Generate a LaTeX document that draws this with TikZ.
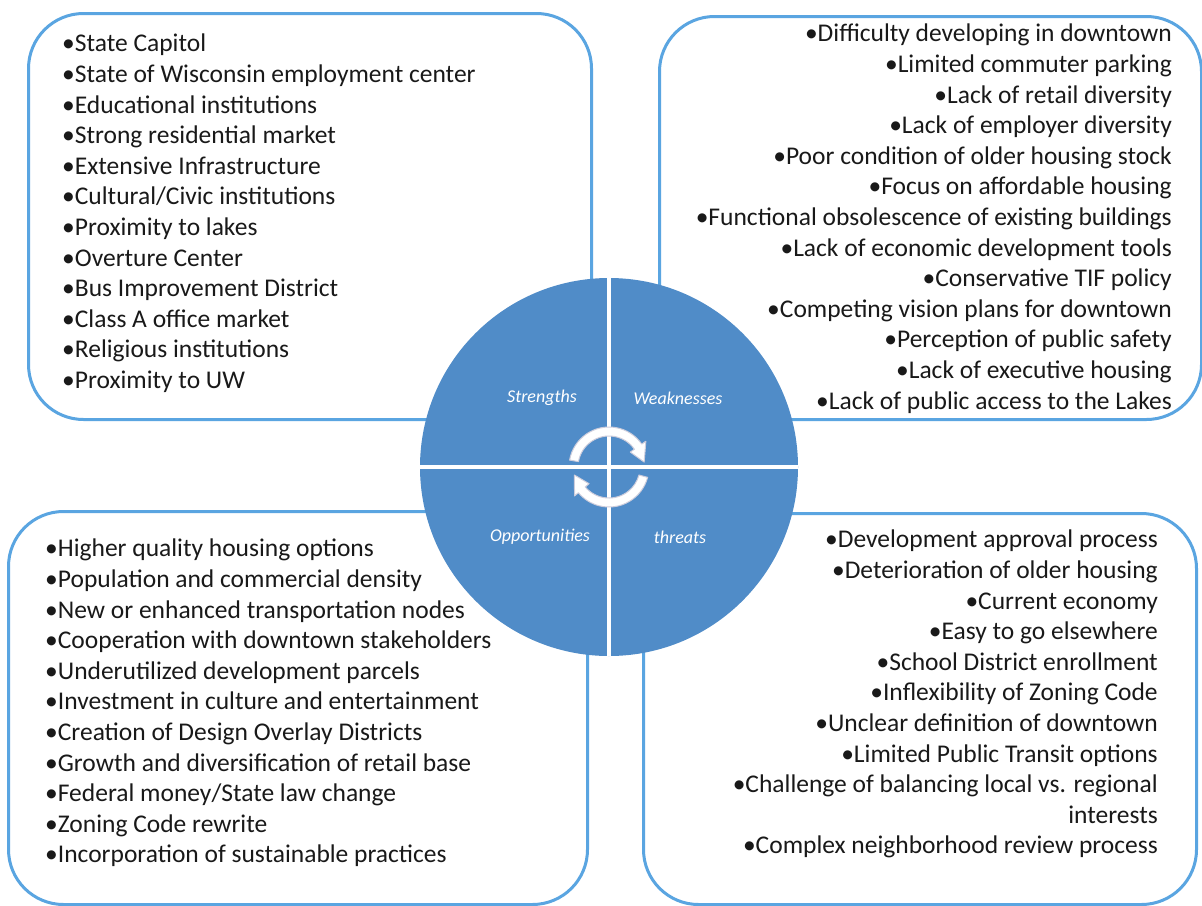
\documentclass[tikz,border=0pt]{standalone}
\usepackage{fontspec}
\setmainfont{Carlito}
\definecolor{circfill}{RGB}{80,140,200}
\definecolor{boxline}{RGB}{90,165,225}
\definecolor{txt}{RGB}{25,25,25}
\definecolor{arrline}{RGB}{205,205,220}
\tikzset{
  swotbox/.style={draw=boxline, line width=3pt, rounded corners=55pt, inner sep=0pt, anchor=north west},
  listtext/.style={inner sep=0pt, text=txt, font=\fontsize{25.5}{30.6}\selectfont},
  quadlabel/.style={inner sep=0pt, text=white, font=\fontsize{18}{20}\selectfont\itshape},
  cyclearrow/.style={fill=white, draw=arrline, line width=1pt, line join=round}
}
\begin{document}
\begin{tikzpicture}[x=1pt,y=-1pt]
\useasboundingbox (0,0) rectangle (1202,905);
\fill[white] (0,0) rectangle (1202,905);
% boxes
\node[swotbox, minimum width=563pt, minimum height=406pt] (sbox) at (27,12) {};
\node[swotbox, minimum width=542pt, minimum height=403pt] (wbox) at (658,15) {};
\node[swotbox, minimum width=579pt, minimum height=393pt] (obox) at (7,510) {};
\node[swotbox, minimum width=553pt, minimum height=391pt] (tbox) at (642,512) {};
% texts
\node[listtext, align=left, anchor=north west] (stxt) at (62,34) {•State Capitol\\•State of Wisconsin employment center\\•Educational institutions\\•Strong residential market\\•Extensive Infrastructure\\•Cultural/Civic institutions\\•Proximity to lakes\\•Overture Center\\•Bus Improvement District\\•Class A office market\\•Religious institutions\\•Proximity to UW};
\node[listtext, align=right, anchor=north east] (wtxt) at (1172,24) {•Difficulty developing in downtown\\•Limited commuter parking\\•Lack of retail diversity\\•Lack of employer diversity\\•Poor condition of older housing stock\\•Focus on affordable housing\\•Functional obsolescence of existing buildings\\•Lack of economic development tools\\•Conservative TIF policy\\•Competing vision plans for downtown\\•Perception of public safety\\•Lack of executive housing\\•Lack of public access to the Lakes};
\node[listtext, align=left, anchor=north west] (otxt) at (45,539) {•Higher quality housing options\\•Population and commercial density\\•New or enhanced transportation nodes\\•Cooperation with downtown stakeholders\\•Underutilized development parcels\\•Investment in culture and entertainment\\•Creation of Design Overlay Districts\\•Growth and diversification of retail base\\•Federal money/State law change\\•Zoning Code rewrite\\•Incorporation of sustainable practices};
\node[listtext, align=right, anchor=north east] (ttxt) at (1158,530) {•Development approval process\\•Deterioration of older housing\\•Current economy\\•Easy to go elsewhere\\•School District enrollment\\•Inflexibility of Zoning Code\\•Unclear definition of downtown\\•Limited Public Transit options\\•Challenge of balancing local vs. regional\\interests\\•Complex neighborhood review process};
% circle
\node[circle, fill=circfill, minimum size=378pt, inner sep=0pt] (c) at (609,467) {};
\draw[white, line width=4pt] (c.north) -- (c.south);
\draw[white, line width=4pt] (c.west) -- (c.east);
\node[quadlabel] (sl) at (542,398) {Strengths};
\node[quadlabel] (wl) at (678,398) {Weaknesses};
\node[quadlabel] (ol) at (540,537) {Opportunities};
\node[quadlabel] (tl) at (680,537) {threats};
% cycle arrows
\begin{scope}[shift={(c.center)}]
\draw[cyclearrow] (190:40) arc[start angle=190, end angle=325, radius=40] -- (325:45) -- (352:35.5) -- (325:26) -- (325:31) arc[start angle=325, end angle=190, radius=31] -- cycle;
\draw[cyclearrow] (15:40) arc[start angle=15, end angle=140, radius=40] -- (140:45) -- (167:35.5) -- (140:26) -- (140:31) arc[start angle=140, end angle=15, radius=31] -- cycle;
\end{scope}
\end{tikzpicture}
\end{document}
